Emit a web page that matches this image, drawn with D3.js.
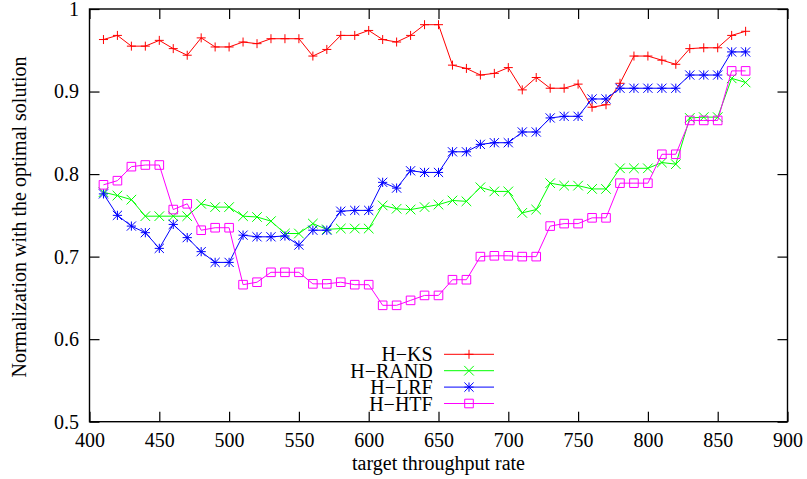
<!DOCTYPE html>
<html>
<head>
<meta charset="utf-8">
<script src="https://cdn.jsdelivr.net/npm/d3@7"></script>
<style>
  body { margin: 0; background: #fff; }
  text { font-family: "Liberation Serif", "Times New Roman", serif; font-size: 20px; fill: #000; }
</style>
</head>
<body>
<div id="container"></div>
<script>
/* DATA */
const rates = [410, 420, 430, 440, 450, 460, 470, 480, 490, 500,
  510, 520, 530, 540, 550, 560, 570, 580, 590, 600,
  610, 620, 630, 640, 650, 660, 670, 680, 690, 700,
  710, 720, 730, 740, 750, 760, 770, 780, 790, 800,
  810, 820, 830, 840, 850, 860, 870];

const hKS = [0.963, 0.968, 0.955, 0.955, 0.962, 0.952, 0.944, 0.965, 0.954, 0.954,
  0.960, 0.958, 0.964, 0.964, 0.964, 0.943, 0.951, 0.968, 0.968, 0.974,
  0.963, 0.960, 0.968, 0.981, 0.981, 0.932, 0.928, 0.920, 0.922, 0.929,
  0.902, 0.917, 0.904, 0.904, 0.909, 0.881, 0.884, 0.910, 0.943, 0.943,
  0.938, 0.933, 0.952, 0.953, 0.953, 0.968, 0.973];

const hRAND = [0.778, 0.774, 0.769, 0.749, 0.749, 0.749, 0.749, 0.764, 0.760, 0.760,
  0.749, 0.748, 0.743, 0.728, 0.728, 0.740, 0.733, 0.734, 0.734, 0.734,
  0.762, 0.758, 0.757, 0.760, 0.763, 0.768, 0.767, 0.784, 0.779, 0.779,
  0.753, 0.757, 0.789, 0.786, 0.786, 0.782, 0.782, 0.807, 0.807, 0.807,
  0.814, 0.812, 0.868, 0.869, 0.869, 0.916, 0.911];

const hLRF = [0.776, 0.750, 0.737, 0.729, 0.710, 0.739, 0.723, 0.706, 0.693, 0.693,
  0.726, 0.724, 0.724, 0.725, 0.714, 0.732, 0.732, 0.755, 0.756, 0.756,
  0.790, 0.783, 0.804, 0.802, 0.802, 0.827, 0.827, 0.836, 0.838, 0.838,
  0.851, 0.851, 0.868, 0.870, 0.870, 0.891, 0.891, 0.904, 0.904, 0.904,
  0.904, 0.904, 0.920, 0.920, 0.920, 0.948, 0.948];

const hHTF = [0.787, 0.792, 0.809, 0.811, 0.811, 0.757, 0.764, 0.732, 0.735, 0.735,
  0.666, 0.669, 0.681, 0.681, 0.681, 0.667, 0.667, 0.669, 0.666, 0.666,
  0.641, 0.641, 0.647, 0.653, 0.653, 0.672, 0.672, 0.700, 0.701, 0.701,
  0.700, 0.700, 0.737, 0.740, 0.740, 0.747, 0.747, 0.789, 0.789, 0.789,
  0.824, 0.824, 0.865, 0.865, 0.865, 0.925, 0.925];

const seriesNames = ["H\u2212KS", "H\u2212RAND", "H\u2212LRF", "H\u2212HTF"];
const xTicks = [400, 450, 500, 550, 600, 650, 700, 750, 800, 850, 900];
const yTicks = [0.5, 0.6, 0.7, 0.8, 0.9, 1];

/* CONSTANTS */
const width = 807, height = 479;
const plotLeft = 89.5, plotRight = 787.5, plotTop = 9, plotBottom = 421.7;

const series = [
  { name: seriesNames[0], values: hKS, color: "#ff0000", mark: "plus", h: 4.5 },
  { name: seriesNames[1], values: hRAND, color: "#00ff00", mark: "times", h: 4.8 },
  { name: seriesNames[2], values: hLRF, color: "#0000ff", mark: "star", h: 4.6 },
  { name: seriesNames[3], values: hHTF, color: "#ff00ff", mark: "box", h: 4.3 }
];

// marker shapes, half size h
function markPath(type, h) {
  const plus = `M${-h},0H${h}M0,${-h}V${h}`;
  const times = `M${-h},${-h}L${h},${h}M${-h},${h}L${h},${-h}`;
  if (type === "plus") return plus;
  if (type === "times") return times;
  if (type === "star") return plus + times;
  return `M${-h},${-h}H${h}V${h}H${-h}Z`;
}

/* SCALES */
const xScale = d3.scaleLinear().domain([400, 900]).range([plotLeft, plotRight]);
const yScale = d3.scaleLinear().domain([0.5, 1]).range([plotBottom, plotTop]);

const svg = d3.select("#container")
  .append("svg")
  .attr("width", width)
  .attr("height", height);

/* AXES (ticks inward, mirrored) */
function styleAxis(g, labels) {
  g.select(".domain").remove();
  g.selectAll(".tick line").attr("stroke", "#000").attr("stroke-width", 1.2);
  g.selectAll(".tick text").style("font-family", '"Liberation Serif", "Times New Roman", serif')
    .style("font-size", "20px").attr("fill", "#000");
  if (!labels) g.selectAll(".tick text").remove();
}

svg.append("g")
  .attr("transform", `translate(0,${plotBottom})`)
  .call(d3.axisBottom(xScale).tickValues(xTicks).tickSizeInner(-10).tickSizeOuter(0).tickPadding(11).tickFormat(d3.format("d")))
  .call(g => styleAxis(g, true));

svg.append("g")
  .attr("transform", `translate(0,${plotTop})`)
  .call(d3.axisTop(xScale).tickValues(xTicks).tickSizeInner(-10).tickSizeOuter(0))
  .call(g => styleAxis(g, false));

svg.append("g")
  .attr("transform", `translate(${plotLeft},0)`)
  .call(d3.axisLeft(yScale).tickValues(yTicks).tickSizeInner(-10).tickSizeOuter(0).tickPadding(10.5).tickFormat(d3.format("")))
  .call(g => styleAxis(g, true));

svg.append("g")
  .attr("transform", `translate(${plotRight},0)`)
  .call(d3.axisRight(yScale).tickValues(yTicks).tickSizeInner(-10).tickSizeOuter(0))
  .call(g => styleAxis(g, false));

// border
svg.append("rect")
  .attr("x", plotLeft).attr("y", plotTop)
  .attr("width", plotRight - plotLeft).attr("height", plotBottom - plotTop)
  .attr("fill", "none").attr("stroke", "#000").attr("stroke-width", 1.4);

/* AXIS TITLES */
svg.append("text")
  .attr("x", (plotLeft + plotRight) / 2)
  .attr("y", 470)
  .attr("text-anchor", "middle")
  .text("target throughput rate");

svg.append("text")
  .attr("transform", "translate(19,217) rotate(-90)")
  .attr("dy", "0.35em")
  .attr("text-anchor", "middle")
  .text("Normalization with the optimal solution");

/* LINES AND POINTS */
const line = d3.line()
  .x((d, i) => xScale(rates[i]))
  .y(d => yScale(d));

series.forEach(s => {
  svg.append("path")
    .attr("d", line(s.values))
    .attr("fill", "none")
    .attr("stroke", s.color)
    .attr("stroke-width", 1);

  svg.append("g").selectAll("path")
    .data(s.values)
    .join("path")
    .attr("transform", (d, i) => `translate(${xScale(rates[i])},${yScale(d)})`)
    .attr("d", markPath(s.mark, s.h))
    .attr("fill", "none")
    .attr("stroke", s.color)
    .attr("stroke-width", 1);
});

/* LEGEND */
const legend = svg.append("g");
series.forEach((s, i) => {
  const y = 354.3 + i * 16.4;
  legend.append("text")
    .attr("x", 432.7).attr("y", y)
    .attr("dy", "0.35em")
    .attr("text-anchor", "end")
    .text(s.name);
  legend.append("line")
    .attr("x1", 444).attr("x2", 494)
    .attr("y1", y).attr("y2", y)
    .attr("stroke", s.color).attr("stroke-width", 1);
  legend.append("path")
    .attr("transform", `translate(469,${y})`)
    .attr("d", markPath(s.mark, s.h))
    .attr("fill", "none")
    .attr("stroke", s.color)
    .attr("stroke-width", 1);
});
</script>
</body>
</html>
